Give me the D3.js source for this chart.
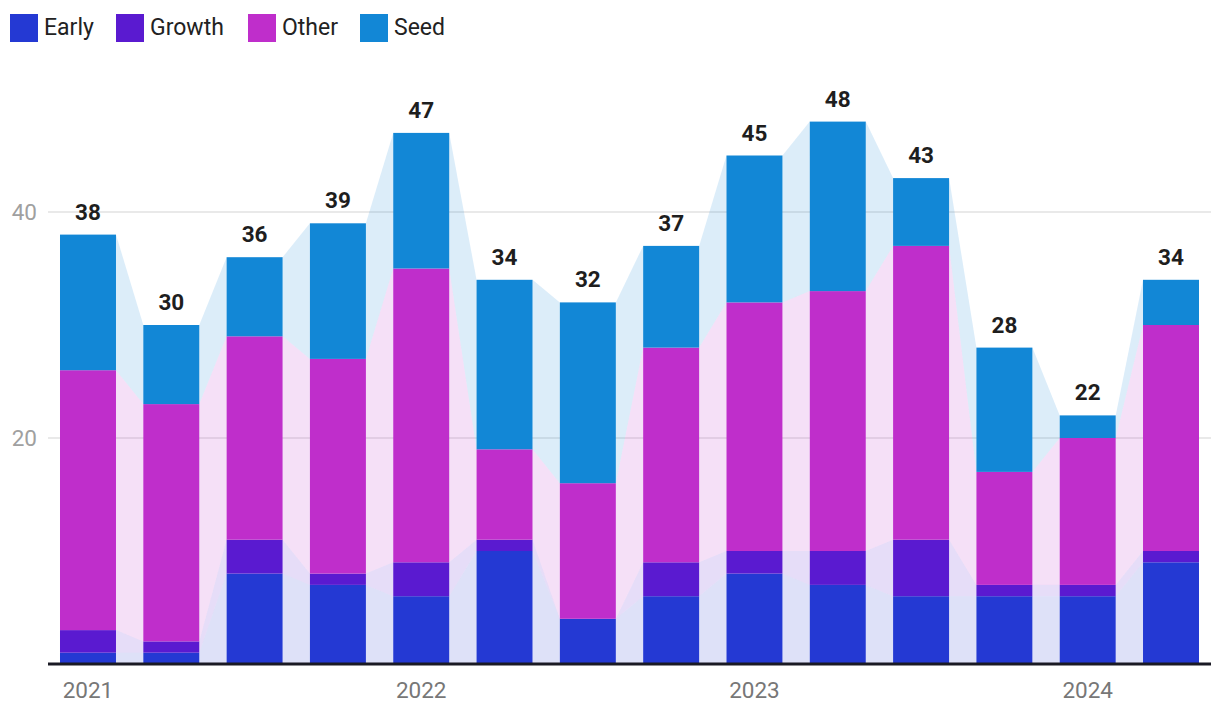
<!DOCTYPE html>
<html><head><meta charset="utf-8">
<script src="https://cdn.jsdelivr.net/npm/d3@7"></script>
<style>body{margin:0;background:#fff;font-family:Roboto,sans-serif}</style>
</head><body><svg id="c" width="1220" height="722"></svg>
<script>
const quarters = ["2021 Q1","2021 Q2","2021 Q3","2021 Q4","2022 Q1","2022 Q2","2022 Q3","2022 Q4","2023 Q1","2023 Q2","2023 Q3","2023 Q4","2024 Q1","2024 Q2"];
const early  = [1,1,8,7,6,10,4,6,8,7,6,6,6,9];
const growth = [2,1,3,1,3,1,0,3,2,3,5,1,1,1];
const other  = [23,21,18,19,26,8,12,19,22,23,26,10,13,20];
const seed   = [12,7,7,12,12,15,16,9,13,15,6,11,2,4];
const seriesNames = ["Early","Growth","Other","Seed"];
const colors = ["#2439d3","#5a1ad0","#bf2ecb","#1287d6"];
const yTicks = [20,40];
const xLabels = {"2021 Q1":"2021","2022 Q1":"2022","2023 Q1":"2023","2024 Q1":"2024"};

const rows = quarters.map((q,i)=>({q,Early:early[i],Growth:growth[i],Other:other[i],Seed:seed[i]}));
const stack = d3.stack().keys(seriesNames)(rows);

const svg = d3.select("#c");
const x = d3.scaleBand().domain(quarters).range([48,1211]).paddingInner(0.328).paddingOuter(0.144);
const y = d3.scaleLinear().domain([0,50]).range([664,99]);

svg.append("g").selectAll("line").data(yTicks).join("line")
  .attr("x1",48).attr("x2",1211).attr("y1",d=>y(d)).attr("y2",d=>y(d))
  .attr("stroke","#e2e2e2").attr("stroke-width",1.5);
svg.append("g").selectAll("text").data(yTicks).join("text")
  .attr("x",37).attr("y",d=>y(d)+8).attr("text-anchor","end")
  .attr("font-size",22.5).attr("fill","#a0a0a0").text(d=>d);

stack.forEach((s,si)=>{
  for(let i=0;i<s.length-1;i++){
    const a=s[i], b=s[i+1];
    const x0=x(quarters[i])+x.bandwidth(), x1=x(quarters[i+1]);
    svg.append("path")
      .attr("d",`M${x0},${y(a[1])}L${x1},${y(b[1])}L${x1},${y(b[0])}L${x0},${y(a[0])}Z`)
      .attr("fill",colors[si]).attr("fill-opacity",0.15);
  }
});

stack.forEach((s,si)=>{
  svg.append("g").selectAll("rect").data(s).join("rect")
    .attr("x",d=>x(d.data.q)).attr("width",x.bandwidth())
    .attr("y",d=>y(d[1])).attr("height",d=>y(d[0])-y(d[1]))
    .attr("fill",colors[si]);
});

svg.append("g").selectAll("text").data(rows).join("text")
  .attr("x",d=>x(d.q)+x.bandwidth()/2)
  .attr("y",d=>y(d.Early+d.Growth+d.Other+d.Seed)-15)
  .attr("text-anchor","middle").attr("font-size",22.5).attr("font-weight","bold")
  .attr("fill","#1e1e1e").text(d=>d.Early+d.Growth+d.Other+d.Seed);

svg.append("line").attr("x1",48).attr("x2",1211).attr("y1",y(0)).attr("y2",y(0))
  .attr("stroke","#1a1a24").attr("stroke-width",3);
svg.append("g").selectAll("text").data(quarters.filter(q=>xLabels[q])).join("text")
  .attr("x",d=>x(d)+x.bandwidth()/2).attr("y",698).attr("text-anchor","middle")
  .attr("font-size",22.5).attr("fill","#777").text(d=>xLabels[d]);

const legX=[10,116,248,360];
const lg=svg.append("g").selectAll("g").data(seriesNames).join("g")
  .attr("transform",(d,i)=>`translate(${legX[i]},14)`);
lg.append("rect").attr("width",28).attr("height",28).attr("fill",(d,i)=>colors[i]);
lg.append("text").attr("x",34).attr("y",21).attr("font-size",23).attr("fill","#222").text(d=>d);
</script></body></html>
